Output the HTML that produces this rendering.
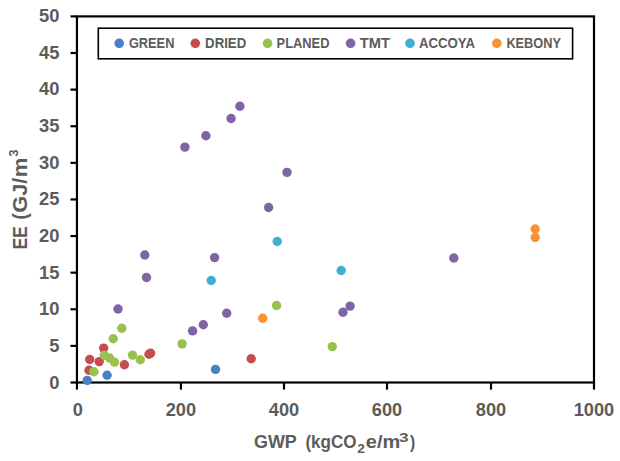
<!DOCTYPE html>
<html><head><meta charset="utf-8"><style>
html,body{margin:0;padding:0;background:#fff;}
body{width:620px;height:461px;overflow:hidden;}
svg{display:block;}
text{font-family:"Liberation Sans",sans-serif;fill:#5c5c5c;font-weight:bold;}
.tk{font-size:17.5px;}
.lg{font-size:14px;}
.at{font-size:18px;}
</style></head><body>
<svg width="620" height="461" viewBox="0 0 620 461">
<rect x="0" y="0" width="620" height="461" fill="#fff"/>
<line x1="70.5" y1="382.50" x2="76.95" y2="382.50" stroke="#000" stroke-width="2.2"/>
<text x="59.5" y="388.90" text-anchor="end" class="tk" textLength="10.22" lengthAdjust="spacingAndGlyphs">0</text>
<line x1="70.5" y1="345.89" x2="76.95" y2="345.89" stroke="#000" stroke-width="2.2"/>
<text x="59.5" y="352.19" text-anchor="end" class="tk" textLength="10.22" lengthAdjust="spacingAndGlyphs">5</text>
<line x1="70.5" y1="309.28" x2="76.95" y2="309.28" stroke="#000" stroke-width="2.2"/>
<text x="59.5" y="315.48" text-anchor="end" class="tk" textLength="20.43" lengthAdjust="spacingAndGlyphs">10</text>
<line x1="70.5" y1="272.67" x2="76.95" y2="272.67" stroke="#000" stroke-width="2.2"/>
<text x="59.5" y="278.77" text-anchor="end" class="tk" textLength="20.43" lengthAdjust="spacingAndGlyphs">15</text>
<line x1="70.5" y1="236.06" x2="76.95" y2="236.06" stroke="#000" stroke-width="2.2"/>
<text x="59.5" y="242.06" text-anchor="end" class="tk" textLength="20.43" lengthAdjust="spacingAndGlyphs">20</text>
<line x1="70.5" y1="199.45" x2="76.95" y2="199.45" stroke="#000" stroke-width="2.2"/>
<text x="59.5" y="205.35" text-anchor="end" class="tk" textLength="20.43" lengthAdjust="spacingAndGlyphs">25</text>
<line x1="70.5" y1="162.84" x2="76.95" y2="162.84" stroke="#000" stroke-width="2.2"/>
<text x="59.5" y="168.64" text-anchor="end" class="tk" textLength="20.43" lengthAdjust="spacingAndGlyphs">30</text>
<line x1="70.5" y1="126.23" x2="76.95" y2="126.23" stroke="#000" stroke-width="2.2"/>
<text x="59.5" y="131.93" text-anchor="end" class="tk" textLength="20.43" lengthAdjust="spacingAndGlyphs">35</text>
<line x1="70.5" y1="89.62" x2="76.95" y2="89.62" stroke="#000" stroke-width="2.2"/>
<text x="59.5" y="95.22" text-anchor="end" class="tk" textLength="20.43" lengthAdjust="spacingAndGlyphs">40</text>
<line x1="70.5" y1="53.01" x2="76.95" y2="53.01" stroke="#000" stroke-width="2.2"/>
<text x="59.5" y="58.51" text-anchor="end" class="tk" textLength="20.43" lengthAdjust="spacingAndGlyphs">45</text>
<line x1="70.5" y1="16.40" x2="76.95" y2="16.40" stroke="#000" stroke-width="2.2"/>
<text x="59.5" y="21.80" text-anchor="end" class="tk" textLength="20.43" lengthAdjust="spacingAndGlyphs">50</text>
<line x1="76.95" y1="382.50" x2="76.95" y2="389.6" stroke="#000" stroke-width="2.2"/>
<text x="77.85" y="415.7" text-anchor="middle" class="tk" textLength="10.12" lengthAdjust="spacingAndGlyphs">0</text>
<line x1="180.90" y1="382.50" x2="180.90" y2="389.6" stroke="#000" stroke-width="2.2"/>
<text x="180.90" y="415.7" text-anchor="middle" class="tk" textLength="30.36" lengthAdjust="spacingAndGlyphs">200</text>
<line x1="284.00" y1="382.50" x2="284.00" y2="389.6" stroke="#000" stroke-width="2.2"/>
<text x="284.00" y="415.7" text-anchor="middle" class="tk" textLength="30.36" lengthAdjust="spacingAndGlyphs">400</text>
<line x1="387.00" y1="382.50" x2="387.00" y2="389.6" stroke="#000" stroke-width="2.2"/>
<text x="387.00" y="415.7" text-anchor="middle" class="tk" textLength="30.36" lengthAdjust="spacingAndGlyphs">600</text>
<line x1="491.00" y1="382.50" x2="491.00" y2="389.6" stroke="#000" stroke-width="2.2"/>
<text x="491.00" y="415.7" text-anchor="middle" class="tk" textLength="30.36" lengthAdjust="spacingAndGlyphs">800</text>
<line x1="594.00" y1="382.50" x2="594.00" y2="389.6" stroke="#000" stroke-width="2.2"/>
<text x="594.00" y="415.7" text-anchor="middle" class="tk" textLength="40.48" lengthAdjust="spacingAndGlyphs">1000</text>
<rect x="76.95" y="16.40" width="517.05" height="366.10" fill="none" stroke="#000" stroke-width="2.2"/>
<rect x="98.3" y="28.2" width="474.3" height="30.6" fill="#fff" stroke="#000" stroke-width="1.6"/>
<circle cx="119.2" cy="43.3" r="4.8" fill="#4A80C6"/>
<text x="128.9" y="48.2" class="lg" textLength="45.5" lengthAdjust="spacingAndGlyphs">GREEN</text>
<circle cx="195.3" cy="43.3" r="4.8" fill="#C64D4D"/>
<text x="205.1" y="48.2" class="lg" textLength="41.1" lengthAdjust="spacingAndGlyphs">DRIED</text>
<circle cx="267.6" cy="43.3" r="4.8" fill="#9AC150"/>
<text x="276.6" y="48.2" class="lg" textLength="52.9" lengthAdjust="spacingAndGlyphs">PLANED</text>
<circle cx="350.6" cy="43.3" r="4.8" fill="#8064A5"/>
<text x="359.7" y="48.2" class="lg" textLength="30.2" lengthAdjust="spacingAndGlyphs">TMT</text>
<circle cx="410.0" cy="43.3" r="4.8" fill="#40B0D2"/>
<text x="419.0" y="48.2" class="lg" textLength="56.0" lengthAdjust="spacingAndGlyphs">ACCOYA</text>
<circle cx="496.8" cy="43.3" r="4.8" fill="#F89233"/>
<text x="506.4" y="48.2" class="lg" textLength="54.6" lengthAdjust="spacingAndGlyphs">KEBONY</text>
<circle cx="87.2" cy="380.40" r="4.7" fill="#4A80C6"/>
<circle cx="107.1" cy="375.30" r="4.7" fill="#4A80C6"/>
<circle cx="215.5" cy="369.40" r="4.7" fill="#4A80C6"/>
<circle cx="103.7" cy="348.10" r="4.7" fill="#C64D4D"/>
<circle cx="89.7" cy="359.50" r="4.7" fill="#C64D4D"/>
<circle cx="99.2" cy="361.60" r="4.7" fill="#C64D4D"/>
<circle cx="124.4" cy="364.70" r="4.7" fill="#C64D4D"/>
<circle cx="149.0" cy="354.30" r="4.7" fill="#C64D4D"/>
<circle cx="150.6" cy="353.20" r="4.7" fill="#C64D4D"/>
<circle cx="89.0" cy="370.30" r="4.7" fill="#C64D4D"/>
<circle cx="251.2" cy="358.70" r="4.7" fill="#C64D4D"/>
<circle cx="113.2" cy="338.70" r="4.7" fill="#9AC150"/>
<circle cx="121.8" cy="328.20" r="4.7" fill="#9AC150"/>
<circle cx="104.3" cy="355.30" r="4.7" fill="#9AC150"/>
<circle cx="109.5" cy="358.00" r="4.7" fill="#9AC150"/>
<circle cx="114.5" cy="362.10" r="4.7" fill="#9AC150"/>
<circle cx="132.5" cy="355.10" r="4.7" fill="#9AC150"/>
<circle cx="140.3" cy="359.70" r="4.7" fill="#9AC150"/>
<circle cx="93.9" cy="371.80" r="4.7" fill="#9AC150"/>
<circle cx="182.1" cy="343.90" r="4.7" fill="#9AC150"/>
<circle cx="276.6" cy="305.50" r="4.7" fill="#9AC150"/>
<circle cx="332.3" cy="346.60" r="4.7" fill="#9AC150"/>
<circle cx="118.0" cy="309.00" r="4.7" fill="#8064A5"/>
<circle cx="144.8" cy="254.95" r="4.7" fill="#8064A5"/>
<circle cx="146.5" cy="277.50" r="4.7" fill="#8064A5"/>
<circle cx="192.6" cy="330.90" r="4.7" fill="#8064A5"/>
<circle cx="203.3" cy="324.80" r="4.7" fill="#8064A5"/>
<circle cx="226.7" cy="313.30" r="4.7" fill="#8064A5"/>
<circle cx="214.6" cy="257.60" r="4.7" fill="#8064A5"/>
<circle cx="184.9" cy="147.10" r="4.7" fill="#8064A5"/>
<circle cx="205.9" cy="135.80" r="4.7" fill="#8064A5"/>
<circle cx="231.1" cy="118.50" r="4.7" fill="#8064A5"/>
<circle cx="239.9" cy="106.20" r="4.7" fill="#8064A5"/>
<circle cx="287.0" cy="172.40" r="4.7" fill="#8064A5"/>
<circle cx="268.6" cy="207.50" r="4.7" fill="#8064A5"/>
<circle cx="350.1" cy="306.10" r="4.7" fill="#8064A5"/>
<circle cx="343.0" cy="312.30" r="4.7" fill="#8064A5"/>
<circle cx="453.8" cy="258.00" r="4.7" fill="#8064A5"/>
<circle cx="211.2" cy="280.50" r="4.7" fill="#40B0D2"/>
<circle cx="277.2" cy="241.50" r="4.7" fill="#40B0D2"/>
<circle cx="341.2" cy="270.50" r="4.7" fill="#40B0D2"/>
<circle cx="262.7" cy="318.30" r="4.7" fill="#F89233"/>
<circle cx="535.2" cy="229.00" r="4.7" fill="#F89233"/>
<circle cx="535.2" cy="237.50" r="4.7" fill="#F89233"/>
<text x="254.0" y="447.8" font-size="18" textLength="42.8" lengthAdjust="spacingAndGlyphs">GWP</text>
<text x="305.4" y="447.8" font-size="18" textLength="51.0" lengthAdjust="spacingAndGlyphs">(kgCO</text>
<text x="357.3" y="452.8" font-size="12.5" textLength="7.6" lengthAdjust="spacingAndGlyphs">2</text>
<text x="365.8" y="447.8" font-size="18" textLength="34.4" lengthAdjust="spacingAndGlyphs">e/m</text>
<text x="399.0" y="441.7" font-size="12.5" textLength="9.6" lengthAdjust="spacingAndGlyphs">3</text>
<text x="410.0" y="447.8" font-size="18" textLength="5.2" lengthAdjust="spacingAndGlyphs">)</text>
<g transform="translate(26.8,249.6) rotate(-90)"><text x="0.0" y="0" font-size="19.8" textLength="23.4" lengthAdjust="spacingAndGlyphs">EE</text><text x="29.9" y="0" font-size="19.8" textLength="6.6" lengthAdjust="spacingAndGlyphs">(</text><text x="36.9" y="0" font-size="19.8" textLength="35.0" lengthAdjust="spacingAndGlyphs">GJ/</text><text x="72.4" y="0" font-size="19.8" textLength="19.6" lengthAdjust="spacingAndGlyphs">m</text><text x="93.0" y="-8.4" font-size="13" textLength="7.0" lengthAdjust="spacingAndGlyphs">3</text></g>
</svg>
</body></html>
